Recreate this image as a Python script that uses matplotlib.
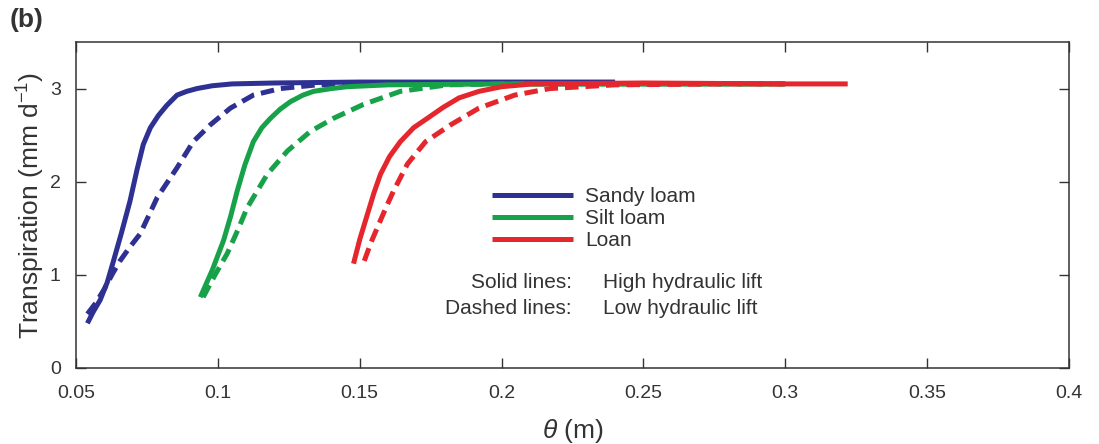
import matplotlib
matplotlib.use("Agg")
import matplotlib.pyplot as plt

plt.rcParams["font.family"] = ["Liberation Sans", "DejaVu Sans"]
plt.rcParams["mathtext.fontset"] = "custom"
plt.rcParams["mathtext.rm"] = "Liberation Sans"
plt.rcParams["mathtext.it"] = "Liberation Sans:italic"
plt.rcParams["mathtext.bf"] = "Liberation Sans:bold"

# Soil moisture (m) vs. transpiration (mm/d) for three soil types
sandy_high_x = [0.0540, 0.0560, 0.0585, 0.0610, 0.0632, 0.0660, 0.0690, 0.0715, 0.0737, 0.0762,
                0.0790, 0.0820, 0.0856, 0.0890, 0.0926, 0.0980, 0.1050, 0.1200, 0.1500, 0.2000, 0.2400]
sandy_high_y = [0.48, 0.60, 0.73, 0.92, 1.15, 1.45, 1.79, 2.13, 2.40, 2.58,
                2.71, 2.82, 2.93, 2.97, 3.00, 3.03, 3.05, 3.06, 3.07, 3.07, 3.07]

sandy_low_x = [0.0540, 0.0570, 0.0600, 0.0630, 0.0655, 0.0690, 0.0726, 0.0786, 0.0856, 0.0913,
               0.0973, 0.1044, 0.1125, 0.1220, 0.1350, 0.1600, 0.2000, 0.2400]
sandy_low_y = [0.58, 0.70, 0.85, 1.02, 1.15, 1.30, 1.44, 1.83, 2.15, 2.43,
               2.61, 2.79, 2.93, 3.00, 3.04, 3.06, 3.06, 3.06]

silt_high_x = [0.0938, 0.0980, 0.1020, 0.1045, 0.1068, 0.1095, 0.1125, 0.1155, 0.1185, 0.1220,
               0.1256, 0.1300, 0.1337, 0.1400, 0.1456, 0.1600, 0.2000, 0.2500, 0.3000]
silt_high_y = [0.76, 1.05, 1.37, 1.63, 1.90, 2.18, 2.43, 2.58, 2.68, 2.78,
               2.86, 2.93, 2.97, 3.00, 3.02, 3.04, 3.05, 3.05, 3.05]

silt_low_x = [0.0948, 0.0990, 0.1033, 0.1070, 0.1103, 0.1174, 0.1245, 0.1326, 0.1407, 0.1513,
              0.1643, 0.1810, 0.2000, 0.2500, 0.3000]
silt_low_y = [0.76, 1.00, 1.23, 1.48, 1.72, 2.08, 2.33, 2.54, 2.68, 2.83,
              2.97, 3.04, 3.05, 3.05, 3.05]

loam_high_x = [0.1478, 0.1500, 0.1527, 0.1550, 0.1573, 0.1605, 0.1643, 0.1690, 0.1738, 0.1795,
               0.1850, 0.1920, 0.2000, 0.2110, 0.2500, 0.3000, 0.3220]
loam_high_y = [1.12, 1.38, 1.65, 1.88, 2.08, 2.27, 2.43, 2.58, 2.68, 2.80,
               2.90, 2.97, 3.02, 3.05, 3.06, 3.05, 3.05]

loam_low_x = [0.1516, 0.1540, 0.1568, 0.1595, 0.1619, 0.1668, 0.1732, 0.1820, 0.1920, 0.2046,
              0.2170, 0.2400, 0.2800, 0.3000]
loam_low_y = [1.15, 1.35, 1.55, 1.74, 1.90, 2.19, 2.43, 2.61, 2.79, 2.93,
              3.00, 3.04, 3.05, 3.05]

soil_names = ["Sandy loam", "Silt loam", "Loan"]
x_ticks = [0.05, 0.1, 0.15, 0.2, 0.25, 0.3, 0.35, 0.4]
x_tick_labels = ["0.05", "0.1", "0.15", "0.2", "0.25", "0.3", "0.35", "0.4"]
y_ticks = [0, 1, 2, 3]

BLUE = "#2e3192"
GREEN = "#17a24a"
RED = "#e5262d"
INK = "#333333"
LW = 3.6
DASH = (2.7, 1.4)

fig = plt.figure(figsize=(10.99, 4.44), dpi=100)
ax = fig.add_axes([0.0692, 0.1712, 0.9035, 0.7342])

series = [
    (sandy_high_x, sandy_high_y, sandy_low_x, sandy_low_y, BLUE),
    (silt_high_x, silt_high_y, silt_low_x, silt_low_y, GREEN),
    (loam_high_x, loam_high_y, loam_low_x, loam_low_y, RED),
]
handles = []
for (hx, hy, lx, ly, c), name in zip(series, soil_names):
    h, = ax.plot(hx, hy, color=c, lw=LW, solid_capstyle="butt", solid_joinstyle="round", label=name)
    ax.plot(lx, ly, color=c, lw=LW, dashes=DASH, dash_capstyle="butt")
    handles.append(h)

ax.set_xlim(0.05, 0.4)
ax.set_ylim(0, 3.5)
ax.set_xticks(x_ticks)
ax.set_xticklabels(x_tick_labels)
ax.set_yticks(y_ticks)

for side in ax.spines.values():
    side.set_linewidth(1.1)
    side.set_color(INK)
ax.tick_params(direction="in", length=7, width=1.0, colors=INK, labelsize=14,
               top=True, right=True, pad=12)
ax.tick_params(axis="y", pad=11)

ax.set_ylabel("Transpiration (mm d$^{-1}$)", fontsize=19, color=INK, labelpad=2)
ax.set_xlabel(r"$\it{\theta}$ (m)", fontsize=19, color=INK, labelpad=11)

leg = ax.legend(handles=handles, loc="upper left", bbox_to_anchor=(0.419, 0.555),
                frameon=False, fontsize=15, handlelength=3.9, handletextpad=0.55,
                labelspacing=0.15, borderpad=0, borderaxespad=0)
for t in leg.get_texts():
    t.set_color(INK)

ax.text(0.4995, 0.261, "Solid lines:", transform=ax.transAxes, ha="right", va="center",
        fontsize=15, color=INK)
ax.text(0.4995, 0.184, "Dashed lines:", transform=ax.transAxes, ha="right", va="center",
        fontsize=15, color=INK)
ax.text(0.531, 0.261, "High hydraulic lift", transform=ax.transAxes, ha="left", va="center",
        fontsize=15, color=INK)
ax.text(0.531, 0.184, "Low hydraulic lift", transform=ax.transAxes, ha="left", va="center",
        fontsize=15, color=INK)

fig.text(0.009, 0.955, "(b)", fontsize=19, fontweight="bold", color=INK, ha="left", va="center")

fig.savefig("out.png", dpi=100)
